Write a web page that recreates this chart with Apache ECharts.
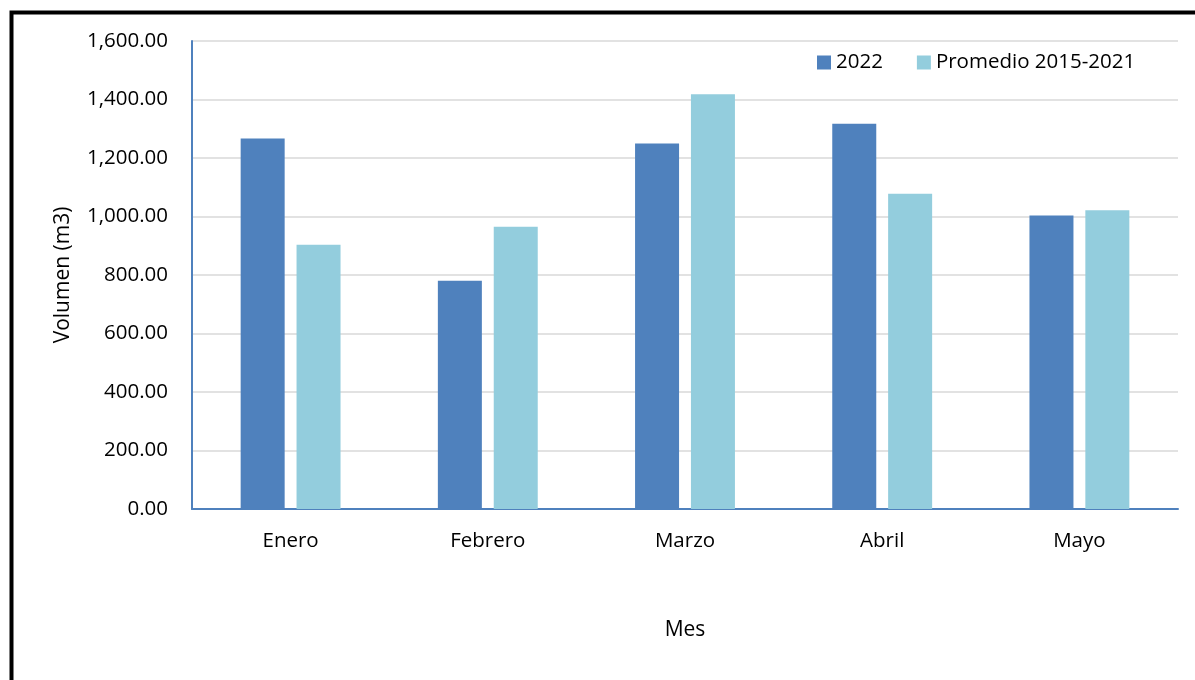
<!DOCTYPE html>
<html>
<head>
<meta charset="utf-8">
<script src="https://cdn.jsdelivr.net/npm/echarts@6/dist/echarts.min.js"></script>
<style>
html,body{margin:0;padding:0;background:#fff;}
#chart{width:1195px;height:680px;}
</style>
</head>
<body>
<div id="chart"></div>
<script>
const categories = ['Enero', 'Febrero', 'Marzo', 'Abril', 'Mayo'];
const values2022 = [1267, 780, 1250, 1317, 1003];
const valuesPromedio = [903, 965, 1418, 1078, 1021];
const seriesNames = ['2022', 'Promedio 2015-2021'];
const yMin = 0, yMax = 1600, yInterval = 200;

const FONT = '"Open Sans", "Noto Sans", sans-serif';
const chart = echarts.init(document.getElementById('chart'));
chart.setOption({
  animation: false,
  backgroundColor: '#fff',
  textStyle: { fontFamily: FONT, color: '#000' },
  graphic: [{
    type: 'rect',
    shape: { x: 11.5, y: 12.5, width: 1400, height: 900 },
    style: { fill: 'none', stroke: '#000', lineWidth: 4 },
    silent: true
  }],
  legend: {
    left: 817, top: 52, padding: 0,
    itemWidth: 14, itemHeight: 14, itemGap: 34,
    icon: 'rect',
    data: seriesNames,
    textStyle: { fontFamily: FONT, fontSize: 20.5, color: '#000' }
  },
  grid: { left: 192, right: 17, top: 41, bottom: 171, containLabel: false },
  xAxis: {
    type: 'category',
    data: categories,
    name: 'Mes',
    nameLocation: 'middle',
    nameGap: 111,
    nameTextStyle: { fontFamily: FONT, fontSize: 21, color: '#000' },
    axisTick: { show: false },
    axisLine: { lineStyle: { color: '#4f81bd', width: 2 } },
    axisLabel: { margin: 22, fontFamily: FONT, fontSize: 20.5, color: '#000' }
  },
  yAxis: {
    type: 'value',
    min: yMin, max: yMax, interval: yInterval,
    name: 'Volumen (m3)',
    nameLocation: 'middle',
    nameGap: 118,
    nameTextStyle: { fontFamily: FONT, fontSize: 21, color: '#000' },
    axisLine: { show: true, lineStyle: { color: '#4f81bd', width: 2 } },
    axisTick: { show: false },
    splitLine: { lineStyle: { color: '#d9d9d9', width: 1.5 } },
    axisLabel: {
      margin: 24, fontFamily: FONT, fontSize: 20.5, color: '#000',
      formatter: v => v.toLocaleString('en-US', { minimumFractionDigits: 2, maximumFractionDigits: 2 })
    }
  },
  series: [
    { name: seriesNames[0], type: 'bar', data: values2022, barWidth: 44, barGap: '27%',
      itemStyle: { color: '#4f81bd' } },
    { name: seriesNames[1], type: 'bar', data: valuesPromedio, barWidth: 44, barGap: '27%',
      itemStyle: { color: '#93cddd' } }
  ]
});
</script>
</body>
</html>
